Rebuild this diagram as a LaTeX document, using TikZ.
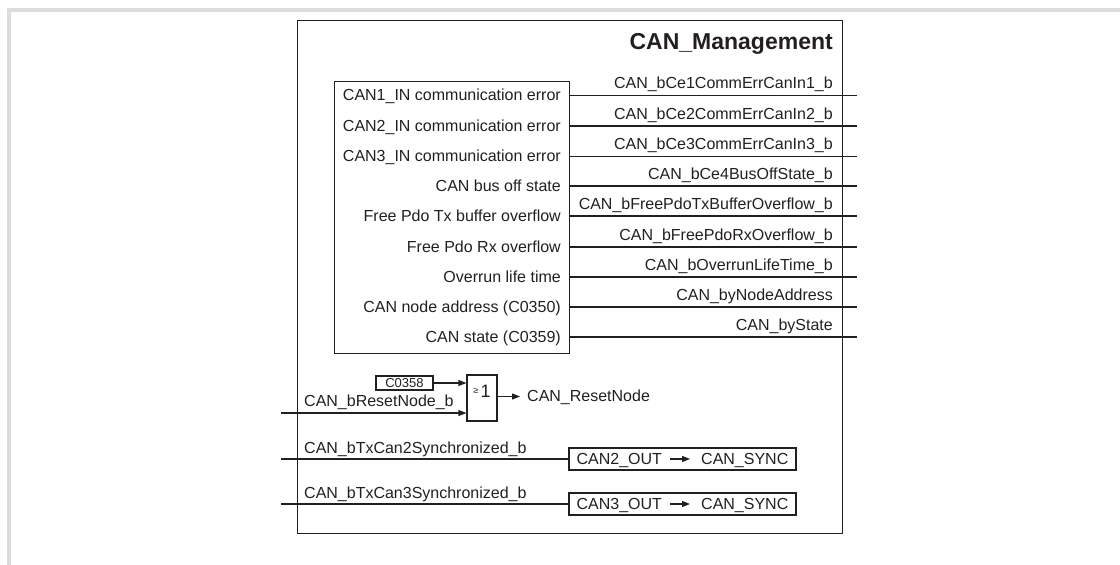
\documentclass[tikz,border=0pt]{standalone}
\usepackage{fontspec}
\setmainfont{Liberation Sans}
\usetikzlibrary{arrows.meta,positioning}
\definecolor{edgegray}{HTML}{DCDCDC}
\definecolor{ink}{HTML}{231F20}

\begin{document}
\begin{tikzpicture}[
 x=1pt,y=1pt,
 blk/.style={draw=ink,line width=1.2pt,inner sep=0pt},
 lbl/.style={text=ink,font=\fontsize{16}{19}\selectfont,inner sep=0pt,text height=12pt,text depth=2pt},
 inlbl/.style={lbl,anchor=east},
 outlbl/.style={lbl,anchor=base east},
 ttl/.style={text=ink,font=\fontsize{23}{27}\selectfont\bfseries,inner sep=0pt,anchor=base east},
 wire/.style={draw=ink,line width=1.1pt},
 sig/.style={wire,-{Triangle[length=8pt,width=6pt]}},
 gate/.style={blk,line width=1.1pt,minimum width=30pt,minimum height=46pt},
 cbox/.style={blk,line width=1.1pt,minimum width=57pt,minimum height=14pt,font=\fontsize{13}{15}\selectfont,text=ink},
 syncbox/.style={blk,line width=1.1pt,minimum width=227pt,minimum height=22pt}]
\useasboundingbox (0,0) rectangle (1120,-565);
\fill[edgegray] (7,-8) rectangle (1120,-12);
\fill[edgegray] (7,-8) rectangle (11,-565);
\node[blk,minimum width=545pt,minimum height=513pt,anchor=north west] (mgmt) at (297,-20) {};
\node[ttl] (title) at (833,-49) {CAN\_Management};
\node[blk,line width=1.1pt,minimum width=235pt,minimum height=272pt,anchor=north west] (errblk) at (334,-81) {};
\coordinate (o1) at (857,-95.5);
\coordinate (o2) at (857,-126);
\coordinate (o3) at (857,-156.5);
\coordinate (o4) at (857,-186);
\coordinate (o5) at (857,-216);
\coordinate (o6) at (857,-247);
\coordinate (o7) at (857,-277);
\coordinate (o8) at (857,-307);
\coordinate (o9) at (857,-337);
\node[inlbl] (i1) at (561,-95.5) {CAN1\_IN communication error};
\node[inlbl] (i2) at (561,-126) {CAN2\_IN communication error};
\node[inlbl] (i3) at (561,-156.5) {CAN3\_IN communication error};
\node[inlbl] (i4) at (561,-186) {CAN bus off state};
\node[inlbl] (i5) at (561,-216) {Free Pdo Tx buffer overflow};
\node[inlbl] (i6) at (561,-247) {Free Pdo Rx overflow};
\node[inlbl] (i7) at (561,-277) {Overrun life time};
\node[inlbl] (i8) at (561,-307) {CAN node address (C0350)};
\node[inlbl] (i9) at (561,-337) {CAN state (C0359)};
\node[outlbl] (r1) at ([xshift=-24pt,yshift=7pt]o1) {CAN\_bCe1CommErrCanIn1\_b};
\node[outlbl] (r2) at ([xshift=-24pt,yshift=7pt]o2) {CAN\_bCe2CommErrCanIn2\_b};
\node[outlbl] (r3) at ([xshift=-24pt,yshift=7pt]o3) {CAN\_bCe3CommErrCanIn3\_b};
\node[outlbl] (r4) at ([xshift=-24pt,yshift=7pt]o4) {CAN\_bCe4BusOffState\_b};
\node[outlbl] (r5) at ([xshift=-24pt,yshift=7pt]o5) {CAN\_bFreePdoTxBufferOverflow\_b};
\node[outlbl] (r6) at ([xshift=-24pt,yshift=7pt]o6) {CAN\_bFreePdoRxOverflow\_b};
\node[outlbl] (r7) at ([xshift=-24pt,yshift=7pt]o7) {CAN\_bOverrunLifeTime\_b};
\node[outlbl] (r8) at ([xshift=-24pt,yshift=7pt]o8) {CAN\_byNodeAddress};
\node[outlbl] (r9) at ([xshift=-24pt,yshift=7pt]o9) {CAN\_byState};
\draw[wire] (errblk.east |- o1) -- (o1);
\draw[wire] (errblk.east |- o2) -- (o2);
\draw[wire] (errblk.east |- o3) -- (o3);
\draw[wire] (errblk.east |- o4) -- (o4);
\draw[wire] (errblk.east |- o5) -- (o5);
\draw[wire] (errblk.east |- o6) -- (o6);
\draw[wire] (errblk.east |- o7) -- (o7);
\draw[wire] (errblk.east |- o8) -- (o8);
\draw[wire] (errblk.east |- o9) -- (o9);
\node[gate,font=\fontsize{18}{20}\selectfont,text=ink,text height=13pt,text depth=15pt] (orgate) at (482,-398) {\raisebox{4pt}{\fontsize{9}{9}\selectfont ≥}\hspace{2.5pt}1};
\node[cbox] (c0358) at (404.5,-383) {C0358};
\coordinate (rstin) at (281,-413);
\node[lbl,anchor=base west] (rstlbl) at (304,-406.5) {CAN\_bResetNode\_b};
\node[lbl,anchor=west] (rstout) at (527,-396.5) {CAN\_ResetNode};
\draw[sig] (c0358.east) -- (c0358.east -| orgate.west);
\draw[sig] (rstin) -- (rstin -| orgate.west);
\draw[sig] (orgate.east |- rstout.west) -- ([xshift=-7pt]rstout.west);
\coordinate (tx2in) at (281,-459);
\node[lbl,anchor=base west] (tx2lbl) at (304,-453.5) {CAN\_bTxCan2Synchronized\_b};
\node[syncbox] (sync2) at (682.5,-459) {};
\node[lbl,anchor=west] (out2) at ([xshift=8pt]sync2.west) {CAN2\_OUT};
\node[lbl,anchor=east] (can2) at ([xshift=-8pt]sync2.east) {CAN\_SYNC};
\coordinate (tx3in) at (281,-504);
\node[lbl,anchor=base west] (tx3lbl) at (304,-498) {CAN\_bTxCan3Synchronized\_b};
\node[syncbox] (sync3) at (682.5,-504) {};
\node[lbl,anchor=west] (out3) at ([xshift=8pt]sync3.west) {CAN3\_OUT};
\node[lbl,anchor=east] (can3) at ([xshift=-8pt]sync3.east) {CAN\_SYNC};
\draw[wire] (tx2in) -- (sync2.west);
\draw[sig,shorten <=8pt,shorten >=11pt] (out2) -- (can2);
\draw[wire] (tx3in) -- (sync3.west);
\draw[sig,shorten <=8pt,shorten >=11pt] (out3) -- (can3);
\end{tikzpicture}
\end{document}
